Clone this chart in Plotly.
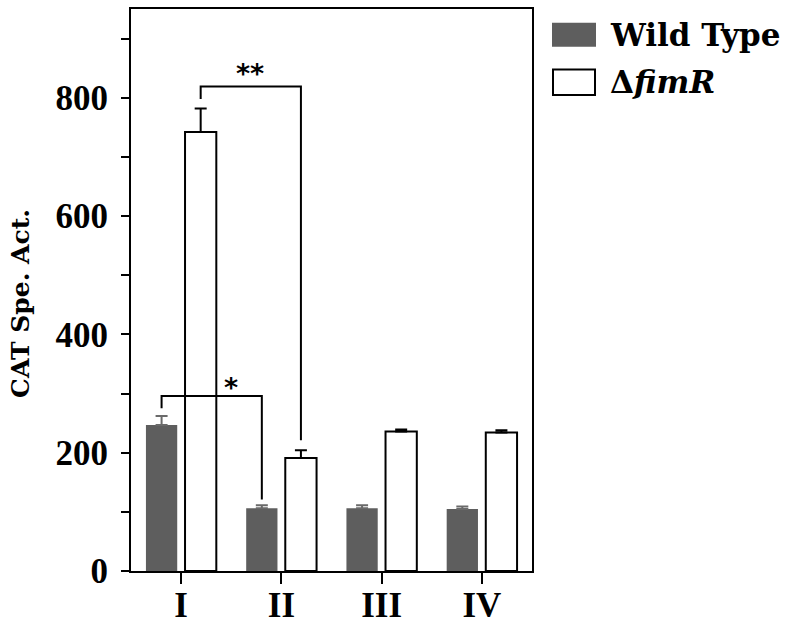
import plotly.graph_objects as go

categories = ["I", "II", "III", "IV"]
wild_type = [247, 106, 106, 105]
wild_type_err = [15, 5, 5, 4]
fimr = [742, 191, 236, 234]
fimr_err = [40, 13, 3, 4]
y_tickvals = [0, 100, 200, 300, 400, 500, 600, 700, 800, 900]
y_ticktext = ["0", "", "200", "", "400", "", "600", "", "800", ""]

FONT = "DejaVu Serif"
TICKFONT = "Liberation Serif"
WT_COLOR = "#5e5e5e"

W, H = 789, 627
L, R, T, B = 131, 532, 9, 571

fig = go.Figure()
fig.add_trace(go.Bar(
    x=categories, y=wild_type, name="Wild Type",
    marker=dict(color=WT_COLOR, line=dict(width=0)),
    error_y=dict(type="data", symmetric=False, array=wild_type_err,
                 arrayminus=[0] * 4, color="#6a6a6a", thickness=2, width=6),
    showlegend=False,
))
fig.add_trace(go.Bar(
    x=categories, y=fimr, name="ΔfimR",
    marker=dict(color="white", line=dict(color="black", width=2)),
    error_y=dict(type="data", symmetric=False, array=fimr_err,
                 arrayminus=[0] * 4, color="black", thickness=2, width=6),
    showlegend=False,
))

OFF = 0.195  # half distance between the two bars of a group (category units)


def bracket(i1, s1, v1, i2, s2, v2, top, label, lx, ly):
    x1 = i1 + s1 * OFF
    x2 = i2 + s2 * OFF
    fig.add_shape(type="path", xref="x", yref="y",
                  path=f"M {x1} {v1} L {x1} {top} L {x2} {top} L {x2} {v2}",
                  line=dict(color="black", width=2))
    fig.add_annotation(x=lx, y=ly, xref="x", yref="y", text=f"<b>{label}</b>", showarrow=False,
                       font=dict(family="DejaVu Sans", size=27, color="black"),
                       yanchor="middle")


# * : WT I vs WT II
bracket(0, -1, wild_type[0] + wild_type_err[0] + 13, 1, -1, wild_type[1] + 15, 296, "*", 0.50, 310)
# ** : fimR I vs fimR II
bracket(0, 1, fimr[0] + fimr_err[0] + 16, 1, 1, fimr[1] + 30, 819, "**", 0.69, 841)

fig.update_layout(
    width=W, height=H,
    margin=dict(l=L, r=W - R, t=T, b=H - B, pad=0, autoexpand=False),
    plot_bgcolor="white", paper_bgcolor="white",
    barmode="group", bargap=0.22, bargroupgap=0.2,
    font=dict(family=FONT, color="black"),
    showlegend=False,
)
fig.update_yaxes(
    range=[0, 950], tickvals=y_tickvals, ticktext=y_ticktext, automargin=False,
    ticks="outside", ticklen=8, tickwidth=2, tickcolor="black",
    showline=True, linecolor="black", linewidth=2, mirror=True,
    showgrid=False, zeroline=False, ticklabelstandoff=6,
    tickfont=dict(family=TICKFONT, size=35, color="black", weight="bold"),
)
fig.update_xaxes(
    range=[-0.5, 3.5], automargin=False,
    ticks="outside", ticklen=11, tickwidth=2, tickcolor="black",
    showline=True, linecolor="black", linewidth=2, mirror=True,
    showgrid=False, ticklabelstandoff=-9,
    tickfont=dict(family=TICKFONT, size=35, color="black", weight="bold"),
)


def px_x(p):
    return (p - L) / (R - L)


def px_y(p):
    return (B - p) / (B - T)


# y-axis title
fig.add_annotation(x=px_x(20), y=px_y(303), xref="paper", yref="paper",
                   text="<b>CAT Spe. Act.</b>", textangle=-90, showarrow=False,
                   font=dict(family=FONT, size=25, color="black"),
                   xanchor="center", yanchor="middle")

# legend drawn manually
fig.add_shape(type="rect", xref="paper", yref="paper",
              x0=px_x(552), x1=px_x(596), y0=px_y(46.7), y1=px_y(22.7),
              fillcolor=WT_COLOR, line=dict(width=0))
fig.add_shape(type="rect", xref="paper", yref="paper",
              x0=px_x(553), x1=px_x(595), y0=px_y(95), y1=px_y(69.5),
              fillcolor="white", line=dict(color="black", width=2))
fig.add_annotation(x=px_x(608), y=px_y(35), xref="paper", yref="paper",
                   text="<b>Wild Type</b>", showarrow=False, xanchor="left", yanchor="middle",
                   font=dict(family=FONT, size=31, color="black"))
fig.add_annotation(x=px_x(608), y=px_y(82), xref="paper", yref="paper",
                   text="<b>Δ<i>fimR</i></b>", showarrow=False, xanchor="left", yanchor="middle",
                   font=dict(family=FONT, size=31, color="black"))

fig.write_html("out.html", config={"displayModeBar": False},
               post_script="document.body.style.margin='0';document.body.style.overflow='hidden';")
